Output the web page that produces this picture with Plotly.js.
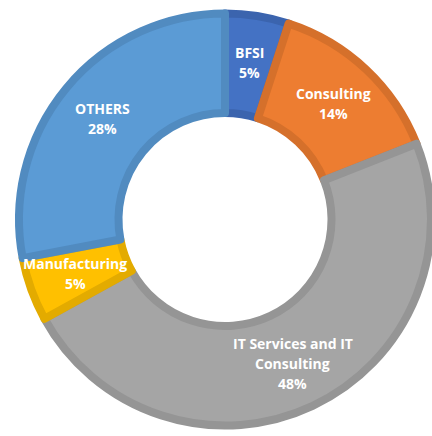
<!DOCTYPE html>
<html>
<head>
<meta charset="utf-8">
<script src="https://cdn.plot.ly/plotly-3.0.1.min.js"></script>
<style>
html,body{margin:0;padding:0;overflow:hidden;background:#fff;}
#chart{width:440px;height:436px;}
</style>
</head>
<body>
<div id="chart"></div>
<script>
// Data
const categories = ["BFSI", "Consulting", "IT Services and IT Consulting", "Manufacturing", "OTHERS"];
const labelLines = [["BFSI"], ["Consulting"], ["IT Services and IT", "Consulting"], ["Manufacturing"], ["OTHERS"]];
const values = [5, 14, 48, 5, 28];
const fillColors = ["#4472C4", "#ED7D31", "#A5A5A5", "#FFC000", "#5B9BD5"];
const lineColors = ["#3B64AE", "#D5702B", "#959595", "#E3AB00", "#518BC0"];

// Layout geometry (pixels)
const W = 440, H = 436;
const CX = 225, CY = 219.5;   // center, from top-left
const R = 206;                // fill radius
const HOLE = 0.517;
const LABEL_R = 159;
const LINE_H = 20;

const total = values.reduce((a, b) => a + b, 0);
let cum = 0;
const annotations = [];
values.forEach((v, i) => {
  const mid = (cum + v / 2) / total;
  cum += v;
  const th = 2 * Math.PI * mid;
  const px = CX + LABEL_R * Math.sin(th);
  const py = CY - LABEL_R * Math.cos(th);
  const pct = Math.round(v / total * 100) + "%";
  const lines = labelLines[i].concat([pct]);
  const n = lines.length;
  lines.forEach((t, k) => {
    annotations.push({
      x: px / W, y: 1 - py / H, xref: "paper", yref: "paper",
      text: t,
      showarrow: false,
      xanchor: "center", yanchor: "middle",
      yshift: -(k - (n - 1) / 2) * LINE_H,
      font: {family: "Open Sans, sans-serif", size: 14, color: "#ffffff", weight: "bold"}
    });
  });
});

const cyB = H - CY;
const trace = {
  type: "pie",
  labels: categories,
  values: values,
  hole: HOLE,
  sort: false,
  direction: "clockwise",
  rotation: 0,
  textinfo: "none",
  hoverinfo: "label+percent",
  marker: {colors: fillColors, line: {color: lineColors, width: 8}},
  domain: {x: [(CX - R) / W, (CX + R) / W], y: [(cyB - R) / H, (cyB + R) / H]},
  showlegend: false
};

const layout = {
  width: W, height: H,
  margin: {l: 0, r: 0, t: 0, b: 0},
  paper_bgcolor: "#ffffff",
  plot_bgcolor: "#ffffff",
  showlegend: false,
  annotations: annotations
};

Plotly.newPlot("chart", [trace], layout, {displayModeBar: false, staticPlot: true});
</script>
</body>
</html>
